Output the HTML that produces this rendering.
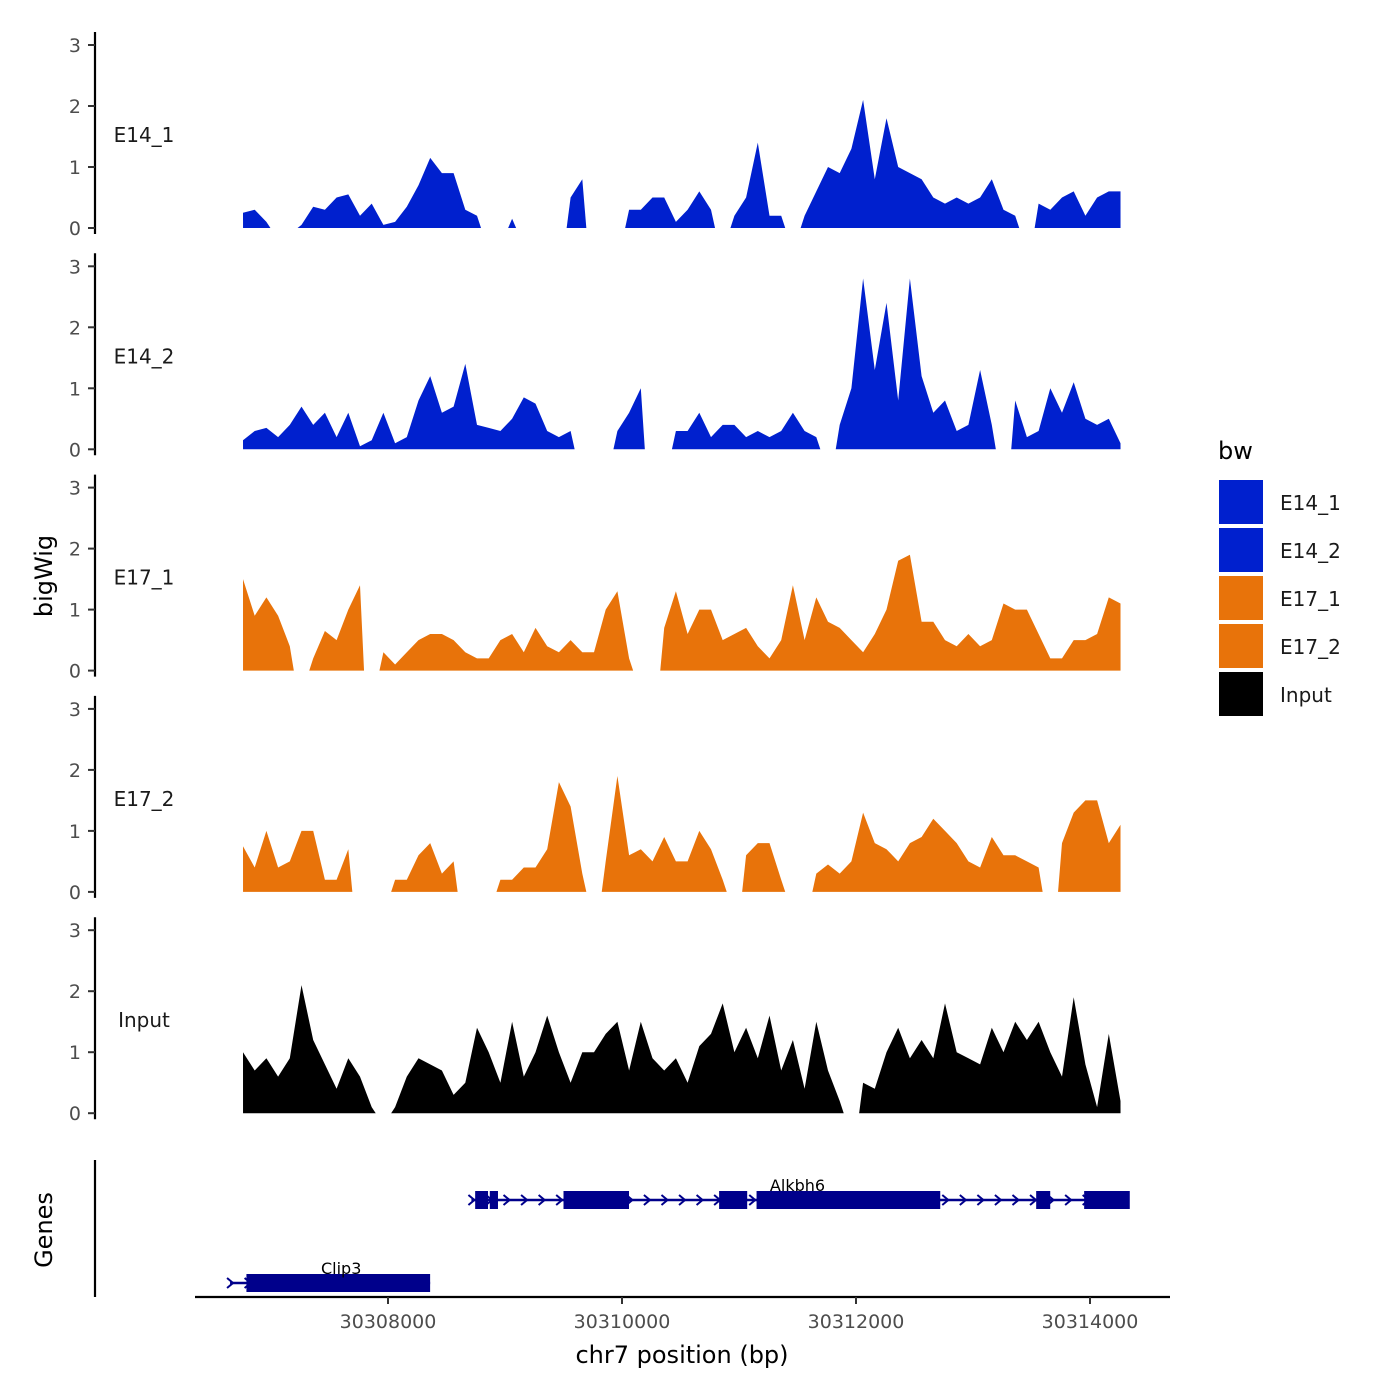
<!DOCTYPE html>
<html><head><meta charset="utf-8"><style>
body{margin:0;background:#fff}
svg{display:block;font-family:"DejaVu Sans","Liberation Sans",sans-serif}
</style></head><body>
<svg id="chart" width="1400" height="1400" viewBox="0 0 1400 1400" xmlns="http://www.w3.org/2000/svg">
<g id="tracks"></g>
<g id="genes"></g>
<text x="52" y="576" font-size="24" text-anchor="middle" transform="rotate(-90 52 576)">bigWig</text>
<text x="52" y="1230" font-size="24" text-anchor="middle" transform="rotate(-90 52 1230)">Genes</text>
<text x="682" y="1363" font-size="24" text-anchor="middle">chr7 position (bp)</text>
<g id="xaxis"></g>
<g id="legend">
<text x="1218" y="459" font-size="24">bw</text>
</g>
</svg>
<script>
const START=30306761, STEP=100;
const trackNames=["E14_1","E14_2","E17_1","E17_2","Input"];
const trackColors=["#0020CE","#0020CE","#E8730A","#E8730A","#000000"];
const yTicks=[0,1,2,3];
const xTicks=[30308000,30310000,30312000,30314000];
const N=null;
const e14_1=[.25,.3,.1,N,N,.05,.35,.3,.5,.55,.2,.4,.05,.1,.35,.7,1.15,.9,.9,.3,.2,N,N,.15,N,N,N,N,.5,.8,N,N,N,.3,.3,.5,.5,.1,.3,.6,.3,N,.2,.5,1.4,.2,.2,N,.2,.6,1.0,.9,1.3,2.1,.8,1.8,1.0,.9,.8,.5,.4,.5,.4,.5,.8,.3,.2,N,.4,.3,.5,.6,.2,.5,.6,.6];
const e14_2=[.15,.3,.35,.2,.4,.7,.4,.6,.2,.6,.05,.15,.6,.1,.2,.8,1.2,.6,.7,1.4,.4,.35,.3,.5,.85,.75,.3,.2,.3,N,N,N,.3,.6,1.0,N,N,.3,.3,.6,.2,.4,.4,.2,.3,.2,.3,.6,.3,.2,N,.4,1.0,2.8,1.3,2.4,.8,2.8,1.2,.6,.8,.3,.4,1.3,.4,N,.8,.2,.3,1.0,.6,1.1,.5,.4,.5,.1];
const e17_1=[1.5,.9,1.2,.9,.4,N,.2,.65,.5,1.0,1.4,N,.3,.1,.3,.5,.6,.6,.5,.3,.2,.2,.5,.6,.3,.7,.4,.3,.5,.3,.3,1.0,1.3,.2,N,N,.7,1.3,.6,1.0,1.0,.5,.6,.7,.4,.2,.5,1.4,.5,1.2,.8,.7,.5,.3,.6,1.0,1.8,1.9,.8,.8,.5,.4,.6,.4,.5,1.1,1.0,1.0,.6,.2,.2,.5,.5,.6,1.2,1.1];
const e17_2=[.75,.4,1.0,.4,.5,1.0,1.0,.2,.2,.7,N,N,N,.2,.2,.6,.8,.3,.5,N,N,N,.2,.2,.4,.4,.7,1.8,1.4,.3,N,.5,1.9,.6,.7,.5,.9,.5,.5,1.0,.7,.2,N,.6,.8,.8,.2,N,N,.3,.45,.3,.5,1.3,.8,.7,.5,.8,.9,1.2,1.0,.8,.5,.4,.9,.6,.6,.5,.4,N,.8,1.3,1.5,1.5,.8,1.1];
const input=[1.0,.7,.9,.6,.9,2.1,1.2,.8,.4,.9,.6,.1,N,.1,.6,.9,.8,.7,.3,.5,1.4,1.0,.5,1.5,.6,1.0,1.6,1.0,.5,1.0,1.0,1.3,1.5,.7,1.5,.9,.7,.9,.5,1.1,1.3,1.8,1.0,1.4,.9,1.6,.7,1.2,.4,1.5,.7,.2,N,.5,.4,1.0,1.4,.9,1.2,.9,1.8,1.0,.9,.8,1.4,1.0,1.5,1.2,1.5,1.0,.6,1.9,.8,.1,1.3,.2];
const series=[e14_1,e14_2,e17_1,e17_2,input];
const geneNames=["Alkbh6","Clip3"];
const geneStart=[30308713,30306650];
const geneEnd=[30314274,30308360];
const geneExons=[[[30308745,30308855],[30308870,30308940],[30309500,30310060],[30310830,30311070],[30311150,30312720],[30313540,30313660],[30313950,30314340]],[[30306790,30308360]]];

const NS="http://www.w3.org/2000/svg";
function mk(tag,attrs,parent){const e=document.createElementNS(NS,tag);for(const k in attrs)e.setAttribute(k,attrs[k]);parent.appendChild(e);return e;}
const xs=bp=>388+(bp-30308000)*0.117;
const unit=61;
const tracksG=document.getElementById('tracks');
series.forEach((vals,t)=>{
  const z=228+t*221.3;
  const g=mk('g',{},tracksG);
  
  
  const ax=mk('line',{x1:95,x2:95,y1:z-196,y2:z+6,stroke:'#000','stroke-width':2.2},g);
  
  
  yTicks.forEach(v=>{
    const y=z-v*unit;
    const tk=mk('line',{x1:88,x2:95,y1:y,y2:y,stroke:'#333','stroke-width':2},g);
    
    
    const tl=mk('text',{x:81,y:y+7,'font-size':19,fill:'#4d4d4d','text-anchor':'end'},g);
    tl.textContent=v;
    
    
  });
  const lab=mk('text',{x:144,y:z-86,'font-size':20,fill:'#1a1a1a','text-anchor':'middle'},g);
  lab.textContent=trackNames[t];
  
  
  let seg=[];
  const flush=()=>{
    if(!seg.length)return;
    const x0=xs(START+seg[0][0]*STEP), x1=xs(START+seg[seg.length-1][0]*STEP);
    let d='M'+(x0-(seg[0][0]===0?0:4))+','+z;
    seg.forEach(([i,v])=>{d+=' L'+xs(START+i*STEP).toFixed(1)+','+(z-v*unit).toFixed(1);});
    d+=' L'+(x1+(seg[seg.length-1][0]===vals.length-1?0:4))+','+z+' Z';
    const p=mk('path',{d:d,fill:trackColors[t]},g);
    
    
    seg=[];
  };
  vals.forEach((v,i)=>{if(v===null)flush();else seg.push([i,v]);});
  flush();
});
const gg=document.getElementById('genes');
const gax=mk('line',{x1:95,x2:95,y1:1160,y2:1297,stroke:'#000','stroke-width':2.2},gg);


const geneY=[1200,1283];
const labelBp=[30311500,30307600];
geneNames.forEach((n,k)=>{
  const y=geneY[k];
  const g=mk('g',{},gg);
  
  
  mk('line',{x1:xs(geneStart[k]),x2:xs(geneEnd[k]),y1:y,y2:y,stroke:'#00008B','stroke-width':2.5},g);
  for(let bp=geneStart[k];bp<geneEnd[k];bp+=150){
    const x=xs(bp);
    mk('path',{d:`M${x-3},${y-5} L${x+3},${y} L${x-3},${y+5}`,fill:'none',stroke:'#00008B','stroke-width':2},g);
  }
  geneExons[k].forEach(([a,b])=>{
    const r=mk('rect',{x:xs(a),y:y-9,width:xs(b)-xs(a),height:18,fill:'#00008B'},g);
    
    
  });
  const tl=mk('text',{x:xs(labelBp[k]),y:y-9,'font-size':16,'text-anchor':'middle',fill:'#000'},g);
  tl.textContent=n;
  
  
});
const xa=document.getElementById('xaxis');
mk('line',{x1:195,x2:1170,y1:1297,y2:1297,stroke:'#000','stroke-width':2.2},xa);
xTicks.forEach(v=>{
  const x=xs(v);
  const tk=mk('line',{x1:x,x2:x,y1:1297,y2:1304,stroke:'#333','stroke-width':2},xa);
  
  
  const tl=mk('text',{x:x,y:1328,'font-size':19,fill:'#4d4d4d','text-anchor':'middle'},xa);
  tl.textContent=v;
  
  
});
const lg=document.getElementById('legend');
const legendColors=["#0020CE","#0020CE","#E8730A","#E8730A","#000000"];
trackNames.forEach((n,i)=>{
  const y=480+i*48;
  const g=mk('g',{},lg);
  
  
  mk('rect',{x:1219,y:y,width:44,height:44,fill:legendColors[i]},g);
  const t=mk('text',{x:1280,y:y+30,'font-size':20,fill:'#1a1a1a'},g);
  t.textContent=n;
});
</script>
</body></html>
